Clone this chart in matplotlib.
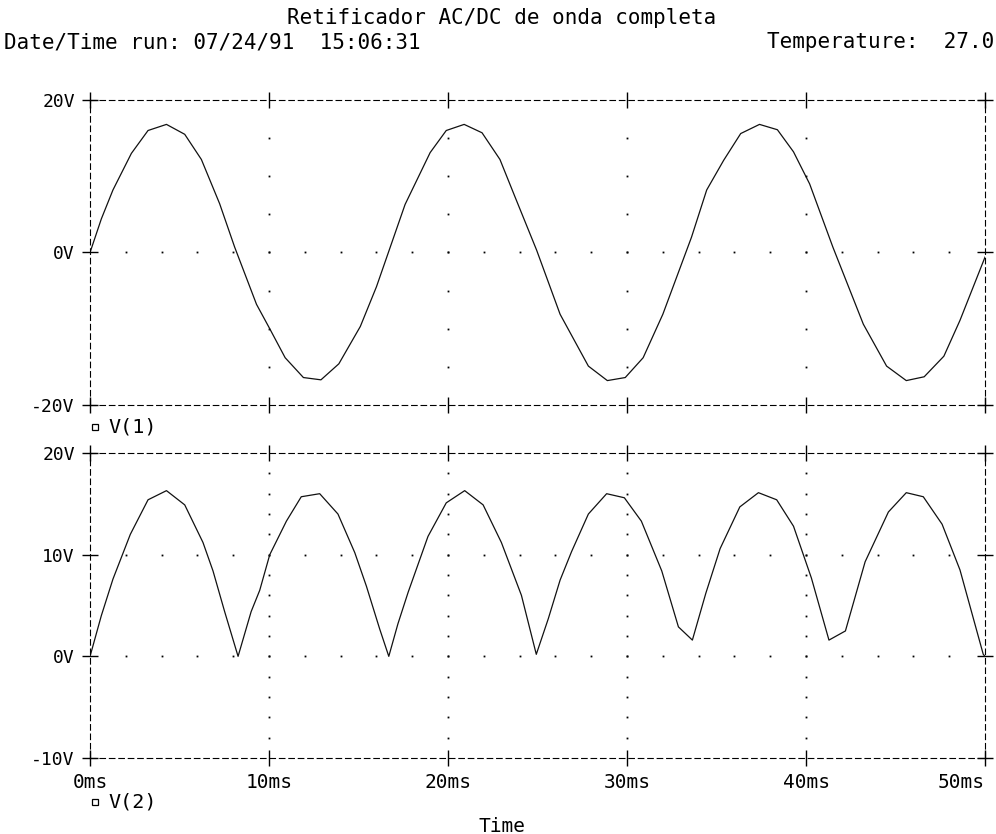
import matplotlib
matplotlib.use("Agg")
import matplotlib.pyplot as plt
import numpy as np

# V(1): tensao de entrada
t1 = [0, 0.63, 1.28, 2.31, 3.24, 4.27, 5.29, 6.22, 7.24, 8.08, 9.3, 10.04,
      10.9, 11.92, 12.9, 13.9, 15.1, 16.0, 17.6, 19.0, 19.9, 20.9, 21.9,
      22.9, 23.74, 24.95, 26.26, 27.84, 28.9, 29.9, 30.9, 32.0, 33.6, 34.45,
      35.4, 36.35, 37.4, 38.4, 39.3, 40.2, 41.5, 43.2, 44.5, 45.6, 46.6,
      47.7, 48.6, 50.0]
v1 = [0, 4.4, 8.2, 13.0, 16.0, 16.8, 15.5, 12.2, 6.4, 0.7, -6.8, -10.0,
      -13.8, -16.4, -16.7, -14.6, -9.7, -4.5, 6.3, 13.1, 16.0, 16.8, 15.7,
      12.2, 7.3, 0.3, -8.1, -14.9, -16.8, -16.4, -13.8, -8.1, 2.0, 8.2,
      12.1, 15.6, 16.8, 16.1, 13.2, 9.0, 0.7, -9.4, -14.9, -16.8, -16.3,
      -13.6, -8.9, -0.6]

# V(2): saida retificada
t2 = [0, 0.63, 1.28, 2.25, 3.24, 4.27, 5.29, 6.31, 6.87, 7.52, 8.27, 9.0,
      9.48, 10.04, 10.97, 11.8, 12.83, 13.85, 14.79, 15.44, 16.18, 16.69,
      17.2, 17.77, 18.88, 19.9, 20.93, 21.96, 22.98, 24.1, 24.93, 25.6,
      26.26, 26.9, 27.84, 28.86, 29.85, 30.8, 31.94, 32.87, 33.65, 34.4,
      35.2, 36.3, 37.34, 38.36, 39.3, 40.3, 41.28, 42.2, 43.3, 44.6, 45.6,
      46.55, 47.6, 48.6, 49.9, 50.0]
v2 = [0, 4.0, 7.6, 12.0, 15.4, 16.3, 14.9, 11.2, 8.4, 4.4, 0.0, 4.4,
      6.5, 10.0, 13.3, 15.7, 16.0, 14.0, 10.2, 6.9, 2.7, 0.0,
      3.2, 6.3, 11.8, 15.1, 16.3, 14.9, 11.2, 6.0, 0.2, 3.7,
      7.5, 10.3, 14.0, 16.0, 15.6, 13.3, 8.4, 2.9, 1.6, 6.2,
      10.6, 14.7, 16.1, 15.4, 12.8, 7.7, 1.6, 2.5, 9.3, 14.2, 16.1,
      15.7, 13.0, 8.5, 0.2, 0.0]

x_ticks = [0, 10, 20, 30, 40, 50]
x_labels = ["0ms", "10ms", "20ms", "30ms", "40ms", "50ms"]
y1_ticks = [-20, 0, 20]
y1_labels = ["-20V", "0V", "20V"]
y2_ticks = [-10, 0, 10, 20]
y2_labels = ["-10V", "0V", "10V", "20V"]

title = "Retificador AC/DC de onda completa"
run_info = "Date/Time run: 07/24/91  15:06:31"
temp_info = "Temperature:  27.0"

mono = "DejaVu Sans Mono"
plt.rcParams["font.family"] = mono

fig = plt.figure(figsize=(9.96, 8.34), dpi=100)
ax1 = fig.add_axes([0.0904, 0.5144, 0.8986, 0.3657])
ax2 = fig.add_axes([0.0904, 0.0911, 0.8986, 0.3657])


def style(ax, yt, yl, ylim, ystep, show_x):
    ax.set_xlim(0, 50)
    ax.set_ylim(*ylim)
    ax.set_xticks(x_ticks)
    ax.set_yticks(yt)
    ax.set_yticklabels(yl)
    if show_x:
        ax.set_xticklabels(x_labels)
    else:
        ax.set_xticklabels([])
    ax.tick_params(direction="inout", length=12, width=1, top=True, right=True,
                   pad=5, colors="black")
    ax.tick_params(axis="y", labelsize=13)
    ax.tick_params(axis="x", labelsize=14)
    for sp in ax.spines.values():
        sp.set_linestyle((0, (5, 3.5)))
        sp.set_linewidth(0.8)
        sp.set_color("black")
    # grade pontilhada
    gx, gy = [], []
    for xv in x_ticks[1:-1]:
        for yv in np.arange(ylim[0] + ystep, ylim[1], ystep):
            gx.append(xv)
            gy.append(yv)
    for yv in yt[1:-1]:
        for xv in range(2, 50, 2):
            gx.append(xv)
            gy.append(yv)
    ax.plot(gx, gy, ls="none", marker="s", ms=1.3, mew=0, color="black")


style(ax1, y1_ticks, y1_labels, (-20, 20), 5, False)
style(ax2, y2_ticks, y2_labels, (-10, 20), 2, True)
lbls = ax2.get_xticklabels()
lbls[-1].set_ha("right")
lbls[-1].set_x(50)

ax1.plot(t1, v1, color="#111111", lw=0.9)
ax2.plot(t2, v2, color="#111111", lw=0.9)

# legendas estilo PSpice
for ax, name, yy in [(ax1, "V(1)", -0.072), (ax2, "V(2)", -0.144)]:
    ax.plot([0.0056], [yy], transform=ax.transAxes, clip_on=False, marker="s",
            ms=5, mfc="white", mec="black", mew=0.9, ls="none")
    ax.text(0.020, yy, name, transform=ax.transAxes, fontsize=14.5,
            va="center", ha="left")

fig.text(0.5035, 1 - 18 / 834, title, fontsize=15, ha="center", va="center")
fig.text(0.004, 1 - 42 / 834, run_info, fontsize=15, ha="left", va="center")
fig.text(0.998, 1 - 42 / 834, temp_info, fontsize=15, ha="right", va="center")
fig.text(0.504, 1 - 826 / 834, "Time", fontsize=14, ha="center", va="center")

fig.savefig("out.png", dpi=100, facecolor="white")
